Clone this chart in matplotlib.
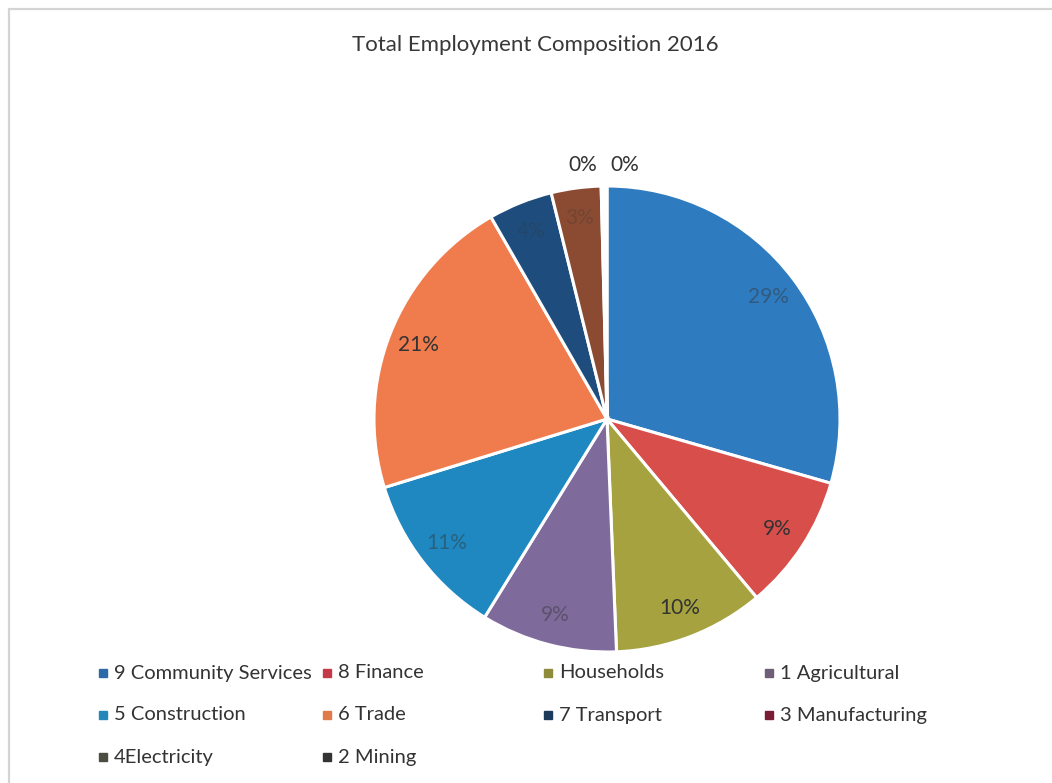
import matplotlib
matplotlib.use("Agg")
import numpy as np
import matplotlib.pyplot as plt
from matplotlib.lines import Line2D
from matplotlib.patches import Rectangle

plt.rcParams['font.family'] = ['Lato', 'DejaVu Sans']

# employment shares by sector, 2016 (%)
sectors = ['9 Community Services', '8 Finance', 'Households', '1 Agricultural',
           '5 Construction', '6 Trade', '7 Transport', '3 Manufacturing',
           '4Electricity', '2 Mining']
shares = [29.45, 9.45, 10.45, 9.45, 11.45, 21.45, 4.45, 3.45, 0.2, 0.2]

slice_colors = ['#2f7bbf', '#d84e4b', '#a5a23f', '#7f6a9c', '#1f88c0',
                '#f07b4d', '#1e4d7d', '#8a4b32', '#4c4f41', '#333333']
legend_colors = ['#2c6ba8', '#c43a48', '#8e8b3b', '#6f5e78', '#2586ba',
                 '#e07a4a', '#1b3a5c', '#7a1c33', '#4a4d40', '#333333']
# label ink; some labels print faintly on the darker slices
label_alpha = [0.45, 1.0, 1.0, 0.45, 0.45, 1.0, 0.25, 0.25, 1.0, 1.0]

W, H = 1052, 783
fig = plt.figure(figsize=(W / 100, H / 100), dpi=100)
fig.patch.set_facecolor('white')

# light frame around the chart area
fig.add_artist(Rectangle((9 / W, -0.05), 1.1, 1 - 9 / H + 0.05,
                         transform=fig.transFigure, fill=False,
                         edgecolor='#d4d4d4', linewidth=1.6))

fig.text(535 / W, 1 - 45 / H, 'Total Employment Composition 2016',
         ha='center', va='center', fontsize=16, color='#383838')

cx, cy, r = 607, 419, 233
ax = fig.add_axes([(cx - r) / W, (H - cy - r) / H, 2 * r / W, 2 * r / H])
wedges, _ = ax.pie(shares, colors=slice_colors, startangle=90, counterclock=False,
                   wedgeprops=dict(edgecolor='white', linewidth=2.2))
ax.set_xlim(-1, 1)
ax.set_ylim(-1, 1)
ax.set_aspect('equal')

total = sum(shares)
tiny_shift = iter([-0.082, 0.082])
for w, v, a in zip(wedges, shares, label_alpha):
    pct = v / total * 100
    mid = np.deg2rad((w.theta1 + w.theta2) / 2)
    if pct < 1:
        x = np.cos(mid) * 1.09 + next(tiny_shift)
        y = np.sin(mid) * 1.09
    else:
        x = np.cos(mid) * 0.87
        y = np.sin(mid) * 0.87
    ax.text(x, y, f'{pct:.0f}%', ha='center', va='center', fontsize=15,
            color='#333333', alpha=a)

# legend laid out in four equal columns, filled row by row
col_x = [103, 327, 548, 769]
row_y = [673, 715, 757]
for i, (name, c) in enumerate(zip(sectors, legend_colors)):
    x = col_x[i % 4]
    y = row_y[i // 4]
    fig.add_artist(Line2D([x / W], [1 - y / H], marker='s', markersize=6,
                          color=c, linestyle='none', transform=fig.transFigure))
    fig.text((x + 11) / W, 1 - y / H, name, ha='left', va='center',
             fontsize=14.5, color='#333333')

fig.savefig('out.png', dpi=100, facecolor='white')
